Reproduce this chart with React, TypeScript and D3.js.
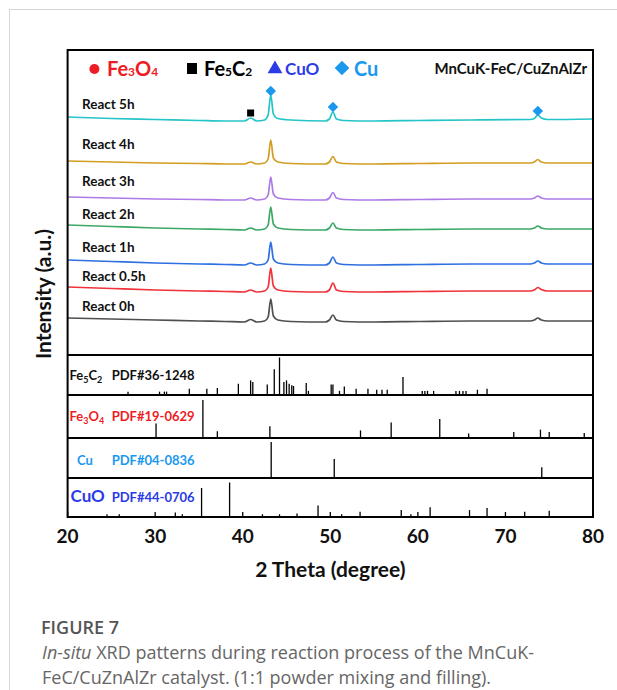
import React from 'react';
import * as d3 from 'd3';

// 2θ grid the traces were read at (degree)
const twoTheta = [20, 25, 30, 35, 38, 40.2, 40.9, 41.6, 42.5, 42.9, 43.2, 43.5, 44.0, 45.5, 49.4, 49.9, 50.3, 50.7, 51.5, 55, 60, 66, 72.8, 73.3, 73.7, 74.1, 74.8, 80];

// stacked intensities (a.u.)
const react0h = [37, 36, 35, 34, 33.5, 33, 35.5, 33, 34, 38, 56, 39, 35, 33.5, 33, 35, 40, 35, 33.5, 33, 33.5, 34, 34, 35, 37, 35, 34, 34];
const react05h = [68, 66.5, 65, 64, 63.5, 63, 65, 63, 64, 68, 87, 69, 65, 63.5, 63, 65, 72, 65, 63.5, 63, 63.5, 64, 64, 65, 67.5, 65.5, 64, 64];
const react1h = [95, 93.5, 92, 91, 90.5, 90, 92, 90, 91, 95, 113, 96, 92, 90.5, 90, 92, 98, 92, 90.5, 90, 90.5, 91, 91, 92, 94, 92, 91, 91];
const react2h = [130, 128.5, 127, 126, 125.5, 125, 127, 125, 126, 130, 148, 131, 127, 125.5, 125, 127, 132, 127, 125.5, 125, 125.5, 126, 126, 127, 129, 127, 126, 126];
const react3h = [158, 157, 156, 155.5, 155, 155, 157, 155, 156, 160, 178, 161, 157, 155.5, 155, 157, 162.5, 157, 155.5, 155, 155.5, 156, 156, 157, 159, 157, 156, 156];
const react4h = [194, 193, 192, 191.5, 191, 191, 193, 191, 192, 196, 215, 197, 193, 191.5, 191, 193, 198.5, 193, 191.5, 191, 191.5, 192, 192, 193, 195.5, 193, 192, 192];
const react5h = [238, 236.5, 235.5, 234.5, 234, 234, 237, 234, 235, 240, 260, 241, 236.5, 235, 234, 236, 243, 236, 234.5, 234, 234.5, 235, 235.5, 236.5, 240, 237, 235.5, 236];

const seriesNames = ['React 0h', 'React 0.5h', 'React 1h', 'React 2h', 'React 3h', 'React 4h', 'React 5h'];
const seriesValues = [react0h, react05h, react1h, react2h, react3h, react4h, react5h];
const seriesColors = ['#4f4f4f', '#f0323a', '#2f6fe0', '#3ba866', '#ad7be6', '#d29d22', '#25c4c9'];

// phase markers on the 5h trace
const cuMarkPos = [43.2, 50.3, 73.7];
const cuMarkVal = [264, 248, 244];
const fe5c2MarkPos = [40.9];
const fe5c2MarkVal = [242];

// reference patterns (relative intensity)
const fe5c2Pos = [26.9, 30.5, 31.05, 31.3, 33.9, 35.9, 37.1, 39.5, 40.9, 41.15, 42.8, 43.6, 44.2, 44.7, 45.0, 45.3, 45.6, 45.8, 47.25, 47.5, 50.1, 50.3, 51.05, 51.6, 52.95, 54.3, 55.3, 55.9, 56.5, 58.3, 60.5, 60.8, 61.1, 61.8, 64.35, 64.75, 65.15, 65.5, 66.8, 67.9];
const fe5c2Int = [9, 9, 9, 9, 17, 17, 19, 30, 39, 35, 28, 69, 100, 35, 39, 30, 26, 24, 32, 11, 28, 28, 11, 23, 17, 17, 14, 14, 14, 48, 11, 11, 11, 11, 11, 11, 11, 11, 14, 17];
const fe3o4Pos = [30.1, 35.45, 37.1, 43.1, 53.45, 56.95, 62.5, 65.8, 70.95, 74.0, 75.0, 79.0];
const fe3o4Int = [38, 100, 18, 31, 20, 41, 50, 12, 16, 22, 16, 13];
const cuPos = [43.25, 50.45, 74.15];
const cuInt = [100, 53, 30];
const cuoPos = [24.5, 25.9, 32.3, 33.1, 35.3, 38.5, 42.25, 44.2, 46.2, 48.6, 51.3, 53.4, 58.1, 59.2, 61.4, 65.9, 67.9, 72.2, 75.0];
const cuoInt = [8, 8, 13, 8, 84, 100, 8, 8, 10, 33, 8, 15, 20, 8, 28, 20, 26, 15, 18];

const xTicks = [20, 30, 40, 50, 60, 70, 80];

const FONT = 'Lato, "Open Sans", sans-serif';
const CAPTION_FONT = '"Open Sans", sans-serif';
const RED = '#ee1c25';
const BLUE = '#2b3be6';
const LIGHTBLUE = '#1b98ee';

export default function App() {
  const left = 67.6;
  const right = 593;
  const top = 50;
  const x = d3.scaleLinear().domain([20, 80]).range([left, right]);
  const y = d3.scaleLinear().domain([0, 305]).range([355, top]);

  const line = d3
    .line<number>()
    .x((_, i) => x(twoTheta[i]))
    .y(d => y(d))
    .curve(d3.curveMonotoneX);

  const labelOffsets = [-7, -6, -8, -6, -11, -12, -8];

  const panels = [
    { key: 'fe5c2', top: 355, bottom: 395, peak: 357.5, pos: fe5c2Pos, int: fe5c2Int },
    { key: 'fe3o4', top: 395, bottom: 438, peak: 400, pos: fe3o4Pos, int: fe3o4Int },
    { key: 'cu', top: 438, bottom: 478, peak: 442, pos: cuPos, int: cuInt },
    { key: 'cuo', top: 478, bottom: 517, peak: 482.5, pos: cuoPos, int: cuoInt },
  ];
  const bottom = 517;

  const diamond = d3.symbol().type(d3.symbolDiamond2).size(70)();
  const triangle = d3.symbol().type(d3.symbolTriangle).size(95)();

  return (
    <svg width={617} height={690} style={{ position: 'absolute', left: 0, top: 0 }} fontFamily={FONT}>
      <rect x={0} y={0} width={617} height={690} fill="#fff" />
      <rect x={9.5} y={9.5} width={700} height={700} fill="none" stroke="#d6d6d6" strokeWidth={1} />

      {/* XRD traces */}
      {seriesValues.map((vals, i) => (
        <path key={seriesNames[i]} d={line(vals) || ''} fill="none" stroke={seriesColors[i]} strokeWidth={1.7} />
      ))}
      {seriesNames.map((name, i) => (
        <text key={name} x={82} y={y(seriesValues[i][0]) + labelOffsets[i]} fontSize={13.5} fontWeight={700} fill="#111">
          {name}
        </text>
      ))}

      {cuMarkPos.map((p, i) => (
        <path key={'cm' + i} d={diamond || ''} transform={`translate(${x(p)},${y(cuMarkVal[i])})`} fill={LIGHTBLUE} />
      ))}
      {fe5c2MarkPos.map((p, i) => (
        <rect key={'fm' + i} x={x(p) - 3.5} y={y(fe5c2MarkVal[i]) - 3.5} width={7} height={7} fill="#000" />
      ))}

      {/* reference panels */}
      {panels.map(pn => {
        const py = d3.scaleLinear().domain([0, 100]).range([pn.bottom, pn.peak]);
        return (
          <g key={pn.key}>
            {pn.pos.map((p, i) => (
              <line key={i} x1={x(p)} x2={x(p)} y1={pn.bottom} y2={py(pn.int[i])} stroke="#000" strokeWidth={1.3} />
            ))}
            <line x1={left} x2={right} y1={pn.top} y2={pn.top} stroke="#000" strokeWidth={1.8} />
          </g>
        );
      })}

      <text x={69.5} y={380} fontSize={13} fontWeight={700} fill="#111">
        Fe<tspan fontSize={9} dy={3}>5</tspan><tspan dy={-3}>C</tspan><tspan fontSize={9} dy={3}>2</tspan>
        <tspan x={111.7} dy={-3}>PDF#36-1248</tspan>
      </text>
      <text x={69.5} y={421} fontSize={13} fontWeight={700} fill={RED}>
        Fe<tspan fontSize={9} dy={3}>3</tspan><tspan dy={-3}>O</tspan><tspan fontSize={9} dy={3}>4</tspan>
        <tspan x={111.7} dy={-3}>PDF#19-0629</tspan>
      </text>
      <text x={77} y={465} fontSize={13} fontWeight={700} fill={LIGHTBLUE}>
        Cu<tspan x={111.7}>PDF#04-0836</tspan>
      </text>
      <text x={70.5} y={502} fontSize={17} fontWeight={700} fill={BLUE}>
        CuO<tspan x={111.7} fontSize={13}>PDF#44-0706</tspan>
      </text>

      {/* frame */}
      <rect x={left} y={top} width={right - left} height={bottom - top} fill="none" stroke="#000" strokeWidth={2} />

      {/* x axis */}
      {xTicks.map(t => (
        <g key={t}>
          <line x1={x(t)} x2={x(t)} y1={bottom} y2={bottom - 5} stroke="#000" strokeWidth={1.3} />
          <text x={x(t)} y={543} fontSize={19} fontWeight={700} textAnchor="middle" fill="#111">{t}</text>
        </g>
      ))}
      <text x={(left + right) / 2} y={577} fontSize={21} fontWeight={700} textAnchor="middle" fill="#111">
        2 Theta (degree)
      </text>
      <text transform="translate(51,294) rotate(-90)" fontSize={21} fontWeight={700} textAnchor="middle" fill="#111">
        Intensity (a.u.)
      </text>

      {/* legend */}
      <circle cx={94.4} cy={69} r={5} fill={RED} />
      <text x={107} y={76} fontSize={20} fontWeight={700} fill={RED}>
        Fe<tspan fontSize={12}>3</tspan>O<tspan fontSize={12}>4</tspan>
      </text>
      <rect x={187} y={63} width={10} height={11} fill="#000" />
      <text x={204} y={76} fontSize={20} fontWeight={700} fill="#000">
        Fe<tspan fontSize={12}>5</tspan>C<tspan fontSize={12}>2</tspan>
      </text>
      <path d={triangle || ''} transform="translate(275,69)" fill={BLUE} />
      <text x={285} y={75} fontSize={17} fontWeight={700} fill={BLUE}>CuO</text>
      <path d={diamond || ''} transform="translate(342,68) scale(1.4)" fill={LIGHTBLUE} />
      <text x={354} y={76} fontSize={20} fontWeight={700} fill={LIGHTBLUE}>Cu</text>
      <text x={587} y={74} fontSize={15} fontWeight={700} textAnchor="end" fill="#111">MnCuK-FeC/CuZnAlZr</text>

      {/* caption */}
      <text x={41} y={634} fontSize={18} fontWeight={600} fill="#555" fontFamily={CAPTION_FONT}>FIGURE 7</text>
      <text x={42} y={659} fontSize={18} fill="#666" fontFamily={CAPTION_FONT}>
        <tspan fontStyle="italic">In-situ</tspan> XRD patterns during reaction process of the MnCuK-
      </text>
      <text x={42} y={684} fontSize={18} fill="#666" fontFamily={CAPTION_FONT}>
        FeC/CuZnAlZr catalyst. (1:1 powder mixing and filling).
      </text>
    </svg>
  );
}
